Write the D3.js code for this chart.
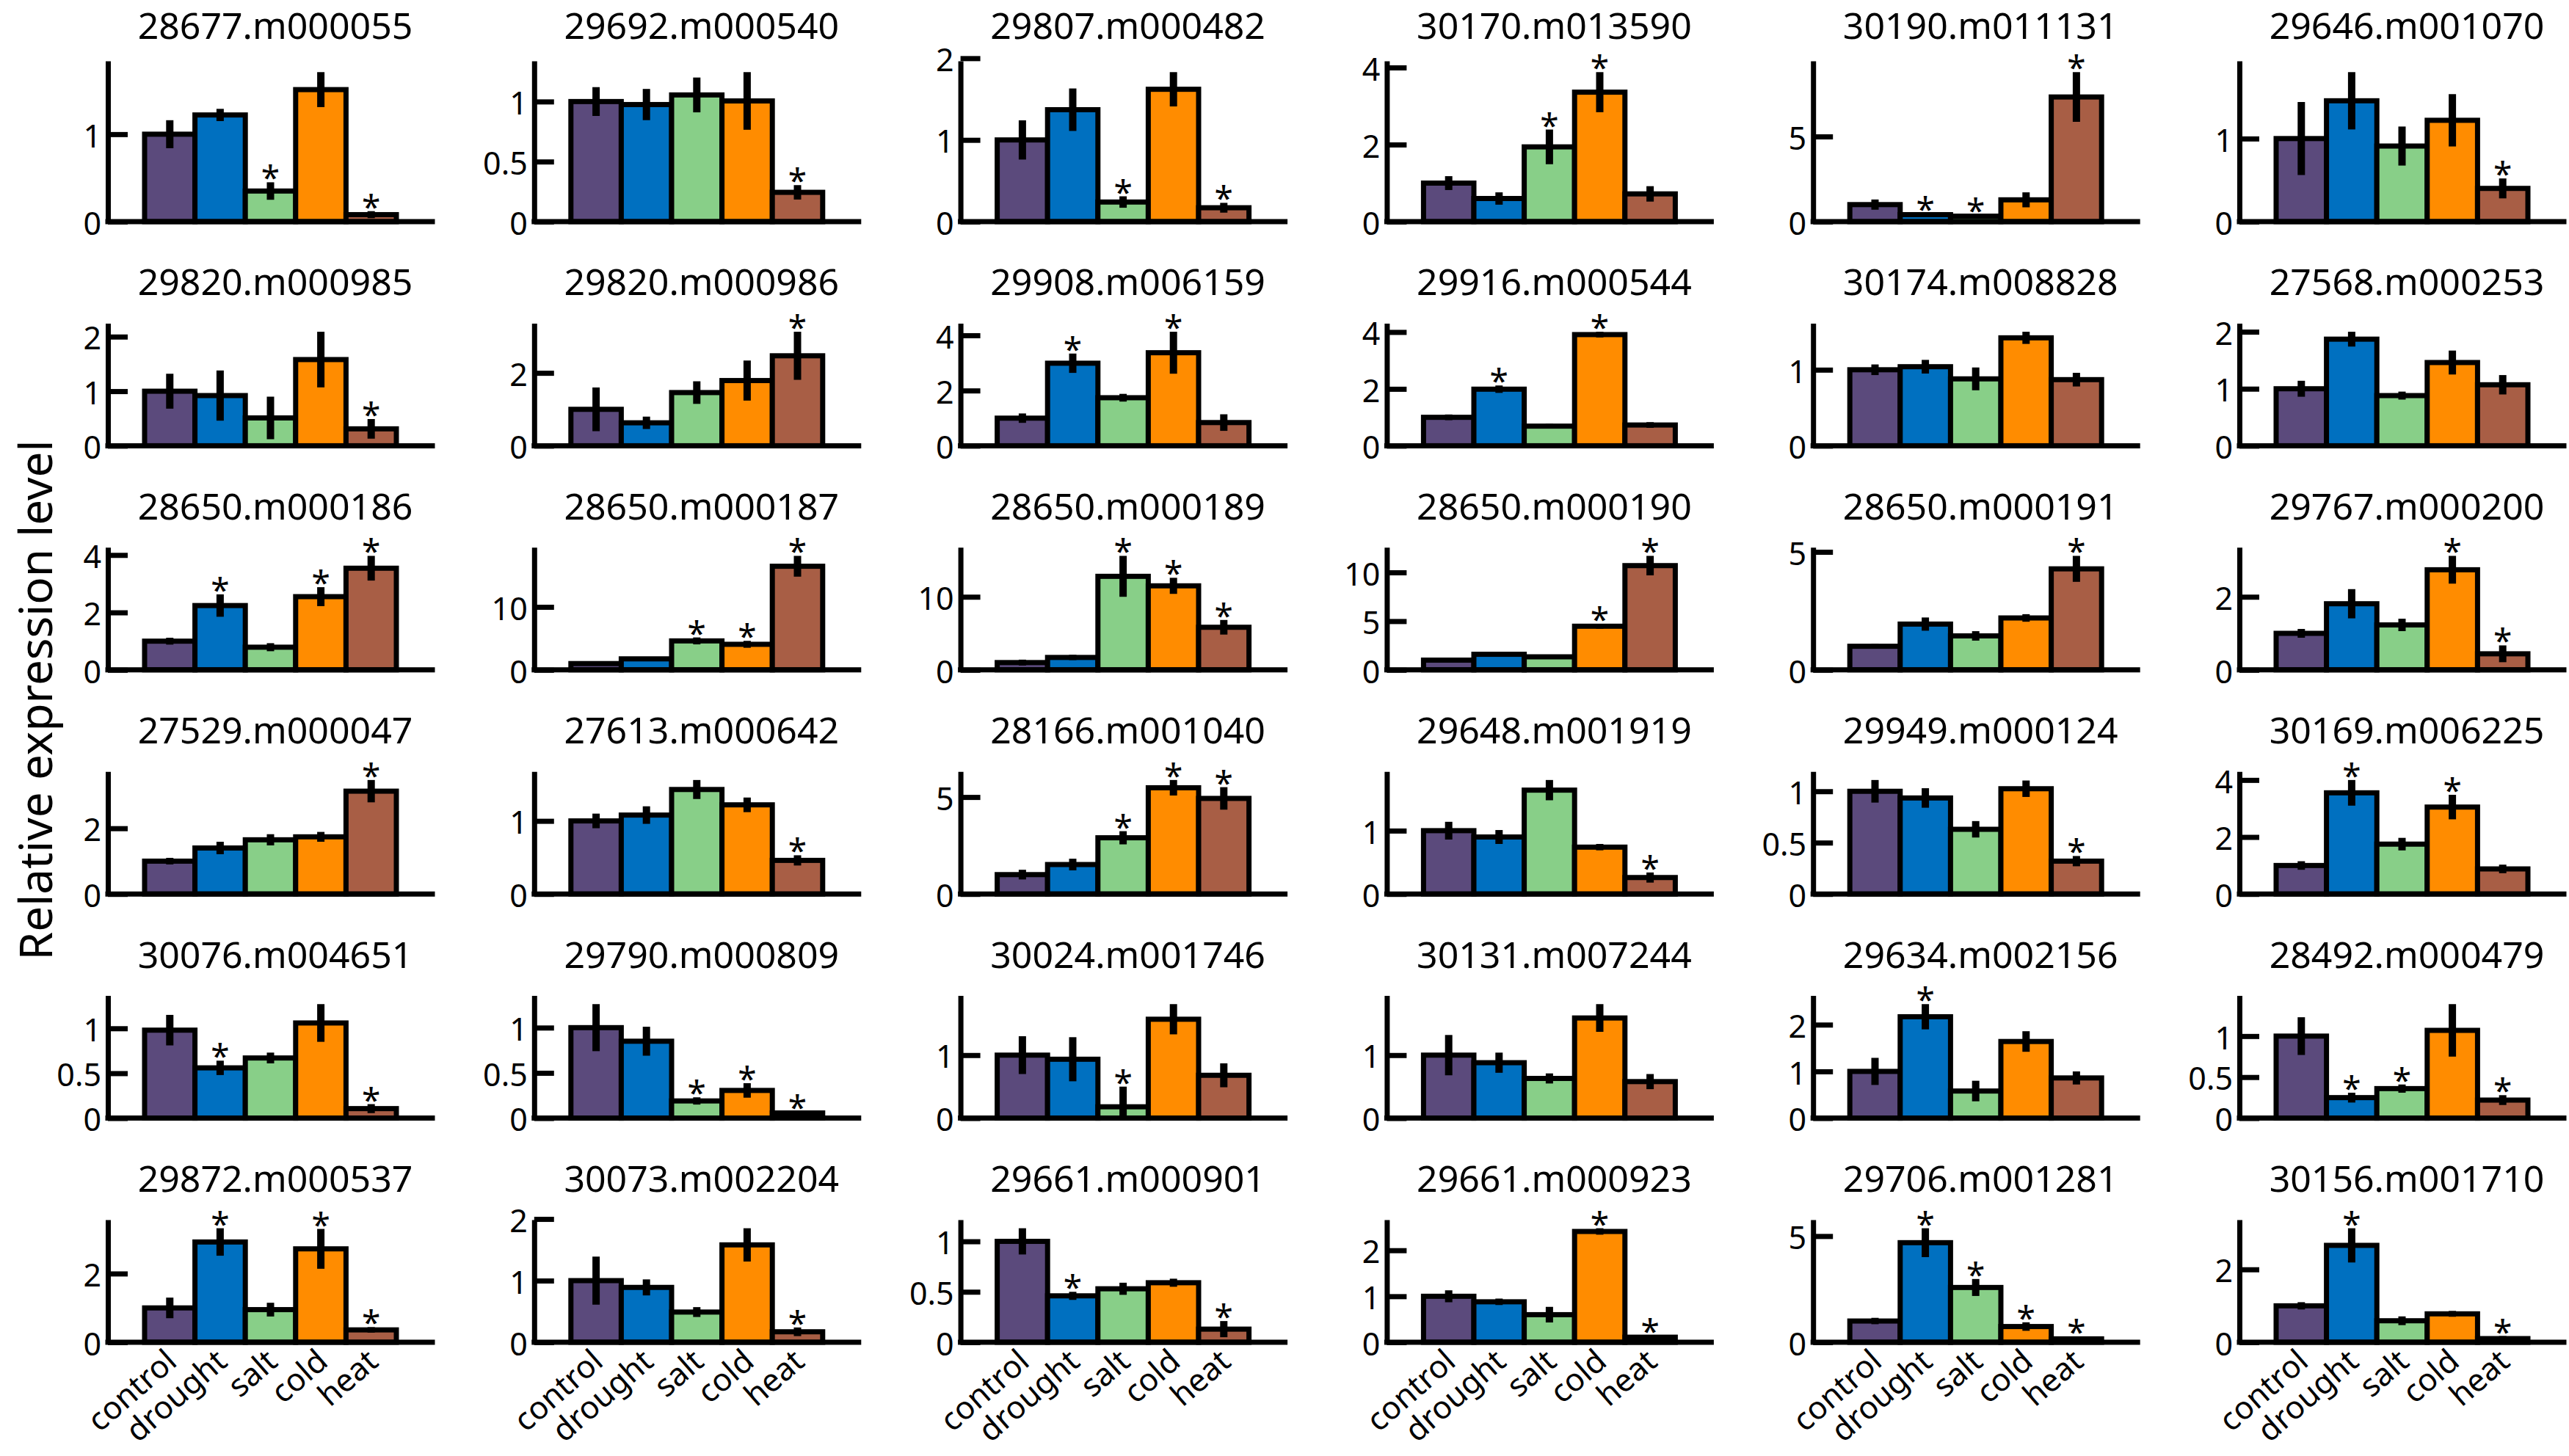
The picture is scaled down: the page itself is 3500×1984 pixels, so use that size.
<!DOCTYPE html>
<html>
<head>
<meta charset="utf-8">
<script src="https://cdn.jsdelivr.net/npm/d3@7"></script>
<style>
  body { margin: 0; background: #fff; }
  svg { display: block; background: #fff; }
</style>
</head>
<body>
<svg width="3500" height="1984"></svg>
<script>
/* global d3 */

// Treatments (x categories) and gene ids, in reading order (6 per row)
const treatments = ['control', 'drought', 'salt', 'cold', 'heat'];

const genes = [
  '28677.m000055', '29692.m000540', '29807.m000482', '30170.m013590', '30190.m011131', '29646.m001070',
  '29820.m000985', '29820.m000986', '29908.m006159', '29916.m000544', '30174.m008828', '27568.m000253',
  '28650.m000186', '28650.m000187', '28650.m000189', '28650.m000190', '28650.m000191', '29767.m000200',
  '27529.m000047', '27613.m000642', '28166.m001040', '29648.m001919', '29949.m000124', '30169.m006225',
  '30076.m004651', '29790.m000809', '30024.m001746', '30131.m007244', '29634.m002156', '28492.m000479',
  '29872.m000537', '30073.m002204', '29661.m000901', '29661.m000923', '29706.m001281', '30156.m001710',
];

// Mean relative expression, one row of 5 per gene
const means = [
  [1.0, 1.22, 0.35, 1.51, 0.08],
  [1.0, 0.975, 1.055, 1.005, 0.244],
  [1.0, 1.37, 0.24, 1.62, 0.17],
  [1.0, 0.6, 1.94, 3.36, 0.72],
  [1.0, 0.41, 0.32, 1.28, 7.32],
  [1.0, 1.455, 0.91, 1.22, 0.4],
  [1.0, 0.92, 0.51, 1.58, 0.31],
  [1.0, 0.63, 1.46, 1.79, 2.47],
  [1.0, 2.99, 1.74, 3.37, 0.84],
  [1.0, 1.99, 0.69, 3.91, 0.73],
  [1.0, 1.04, 0.88, 1.42, 0.87],
  [1.0, 1.87, 0.88, 1.46, 1.07],
  [1.0, 2.24, 0.79, 2.55, 3.54],
  [1.0, 1.75, 4.6, 4.06, 16.45],
  [1.0, 1.7, 12.8, 11.5, 5.83],
  [1.0, 1.6, 1.34, 4.48, 10.7],
  [1.0, 1.94, 1.44, 2.2, 4.28],
  [1.0, 1.81, 1.23, 2.74, 0.44],
  [1.0, 1.4, 1.65, 1.74, 3.13],
  [1.0, 1.08, 1.43, 1.22, 0.46],
  [1.0, 1.52, 2.9, 5.48, 4.93],
  [1.0, 0.9, 1.64, 0.74, 0.26],
  [1.0, 0.935, 0.63, 1.025, 0.32],
  [1.0, 3.55, 1.75, 3.05, 0.88],
  [0.98, 0.56, 0.67, 1.06, 0.106],
  [1.0, 0.85, 0.19, 0.306, 0.057],
  [1.0, 0.935, 0.18, 1.57, 0.68],
  [1.0, 0.88, 0.63, 1.59, 0.58],
  [1.0, 2.17, 0.58, 1.64, 0.86],
  [1.0, 0.25, 0.36, 1.07, 0.22],
  [1.0, 2.92, 0.95, 2.72, 0.36],
  [1.0, 0.89, 0.49, 1.58, 0.17],
  [1.0, 0.46, 0.53, 0.59, 0.13],
  [1.0, 0.88, 0.6, 2.41, 0.11],
  [1.0, 4.69, 2.58, 0.74, 0.16],
  [1.0, 2.66, 0.59, 0.78, 0.1],
];

// Error bar half lengths
const errors = [
  [0.16, 0.07, 0.1, 0.2, 0.04],
  [0.12, 0.13, 0.145, 0.24, 0.06],
  [0.24, 0.26, 0.07, 0.21, 0.06],
  [0.18, 0.16, 0.45, 0.52, 0.2],
  [0.3, 0.08, 0.06, 0.44, 1.46],
  [0.44, 0.345, 0.235, 0.315, 0.12],
  [0.32, 0.46, 0.39, 0.51, 0.18],
  [0.6, 0.17, 0.31, 0.55, 0.66],
  [0.17, 0.35, 0.14, 0.76, 0.3],
  [0.1, 0.13, 0.08, 0.1, 0.1],
  [0.07, 0.09, 0.15, 0.08, 0.09],
  [0.14, 0.13, 0.07, 0.21, 0.17],
  [0.12, 0.39, 0.14, 0.33, 0.43],
  [0.2, 0.3, 0.55, 0.55, 1.65],
  [0.4, 0.36, 2.8, 1.1, 1.0],
  [0.1, 0.15, 0.15, 0.25, 1.0],
  [0.1, 0.28, 0.2, 0.16, 0.55],
  [0.12, 0.4, 0.17, 0.38, 0.23],
  [0.1, 0.19, 0.17, 0.15, 0.34],
  [0.1, 0.12, 0.13, 0.1, 0.07],
  [0.25, 0.3, 0.34, 0.4, 0.58],
  [0.14, 0.11, 0.16, 0.05, 0.08],
  [0.11, 0.095, 0.08, 0.08, 0.05],
  [0.15, 0.45, 0.22, 0.43, 0.15],
  [0.17, 0.08, 0.06, 0.21, 0.05],
  [0.26, 0.16, 0.04, 0.08, 0.015],
  [0.3, 0.35, 0.32, 0.24, 0.19],
  [0.32, 0.16, 0.08, 0.22, 0.12],
  [0.29, 0.27, 0.22, 0.22, 0.14],
  [0.23, 0.06, 0.05, 0.32, 0.06],
  [0.3, 0.4, 0.2, 0.58, 0.08],
  [0.39, 0.13, 0.08, 0.27, 0.07],
  [0.13, 0.04, 0.06, 0.04, 0.08],
  [0.13, 0.07, 0.17, 0.07, 0.04],
  [0.15, 0.68, 0.4, 0.2, 0.1],
  [0.1, 0.47, 0.12, 0.08, 0.07],
];

// Significance marks (1 = asterisk)
const stars = [
  [0, 0, 1, 0, 1], [0, 0, 0, 0, 1], [0, 0, 1, 0, 1], [0, 0, 1, 1, 0], [0, 1, 1, 0, 1], [0, 0, 0, 0, 1],
  [0, 0, 0, 0, 1], [0, 0, 0, 0, 1], [0, 1, 0, 1, 0], [0, 1, 0, 1, 0], [0, 0, 0, 0, 0], [0, 0, 0, 0, 0],
  [0, 1, 0, 1, 1], [0, 0, 1, 1, 1], [0, 0, 1, 1, 1], [0, 0, 0, 1, 1], [0, 0, 0, 0, 1], [0, 0, 0, 1, 1],
  [0, 0, 0, 0, 1], [0, 0, 0, 0, 1], [0, 0, 1, 1, 1], [0, 0, 0, 0, 1], [0, 0, 0, 0, 1], [0, 1, 0, 1, 0],
  [0, 1, 0, 0, 1], [0, 0, 1, 1, 1], [0, 0, 1, 0, 0], [0, 0, 0, 0, 0], [0, 1, 0, 0, 0], [0, 1, 1, 0, 1],
  [0, 1, 0, 1, 1], [0, 0, 0, 0, 1], [0, 1, 0, 0, 1], [0, 0, 0, 1, 1], [0, 1, 1, 1, 1], [0, 1, 0, 0, 1],
];

// Y tick values shown on each panel
const yTicks = [
  [0, 1], [0, 0.5, 1], [0, 1, 2], [0, 2, 4], [0, 5], [0, 1],
  [0, 1, 2], [0, 2], [0, 2, 4], [0, 2, 4], [0, 1], [0, 1, 2],
  [0, 2, 4], [0, 10], [0, 10], [0, 5, 10], [0, 5], [0, 2],
  [0, 2], [0, 1], [0, 5], [0, 1], [0, 0.5, 1], [0, 2, 4],
  [0, 0.5, 1], [0, 0.5, 1], [0, 1], [0, 1], [0, 1, 2], [0, 0.5, 1],
  [0, 2], [0, 1, 2], [0, 0.5, 1], [0, 1, 2], [0, 5], [0, 2],
];

const colors = ['#5b4a7c', '#0070c0', '#88cf88', '#ff8c00', '#a85e45'];
const font = "'Noto Sans', 'Open Sans', sans-serif";

// Layout
const svg = d3.select('svg');
const ncol = 6;
const colX0 = 147;
const colStep = 580.8;
const rowBase0 = 302;
const rowStep = 305.4;
const axisLen = 442;
const lw = 7;

genes.forEach((gene, i) => {
  const r = Math.floor(i / ncol);
  const c = i % ncol;
  const h = r === 0 ? 219 : 167;
  const m = means[i];
  const e = errors[i];

  const g = svg.append('g')
    .attr('transform', `translate(${colX0 + c * colStep}, ${rowBase0 + r * rowStep})`);

  const x = d3.scaleBand().domain(treatments).range([50, 393]).padding(0);
  const top = d3.max(m, (v, j) => v + e[j]);
  const y = d3.scaleLinear().domain([0, top * 1.075]).range([0, -h]);

  const rows = treatments.map((t, j) => ({ t, v: m[j], err: e[j], star: stars[i][j], color: colors[j] }));

  // bars
  g.selectAll('.bar')
    .data(rows)
    .enter()
    .append('rect')
    .attr('class', 'bar')
    .attr('x', (d) => x(d.t))
    .attr('y', (d) => y(d.v))
    .attr('width', x.bandwidth())
    .attr('height', (d) => y(0) - y(d.v))
    .attr('fill', (d) => d.color)
    .attr('stroke', '#000')
    .attr('stroke-width', lw);

  // error bars
  g.selectAll('.err')
    .data(rows)
    .enter()
    .append('line')
    .attr('x1', (d) => x(d.t) + x.bandwidth() / 2)
    .attr('x2', (d) => x(d.t) + x.bandwidth() / 2)
    .attr('y1', (d) => y(Math.max(0, d.v - d.err)))
    .attr('y2', (d) => y(d.v + d.err))
    .attr('stroke', '#000')
    .attr('stroke-width', 10);

  // asterisks
  g.selectAll('.star')
    .data(rows.filter((d) => d.star))
    .enter()
    .append('text')
    .attr('x', (d) => x(d.t) + x.bandwidth() / 2)
    .attr('y', (d) => y(d.v + d.err) + 11)
    .attr('text-anchor', 'middle')
    .attr('font-family', font)
    .attr('font-size', 46)
    .text('*');

  // y axis
  const yAxis = g.append('g')
    .call(d3.axisLeft(y)
      .tickValues(yTicks[i])
      .tickFormat(d3.format('~g'))
      .tickSize(-27)
      .tickSizeOuter(0)
      .tickPadding(9));
  yAxis.attr('font-family', font).attr('font-size', 43);
  yAxis.selectAll('path, line').attr('stroke', '#000').attr('stroke-width', lw);
  yAxis.selectAll('text').attr('fill', '#000').attr('dy', '0.4em');

  // x axis line
  g.append('line')
    .attr('x1', 0)
    .attr('x2', axisLen)
    .attr('y1', 0)
    .attr('y2', 0)
    .attr('stroke', '#000')
    .attr('stroke-width', lw)
    .attr('stroke-linecap', 'square');

  // title
  g.append('text')
    .attr('x', 228)
    .attr('y', r === 0 ? -h - 30 : -h - 38)
    .attr('text-anchor', 'middle')
    .attr('font-family', font)
    .attr('font-size', 50)
    .text(gene);

  // category labels on the bottom row only
  if (r === 5) {
    const xAxis = g.append('g').call(d3.axisBottom(x).tickSize(0));
    xAxis.select('.domain').remove();
    xAxis.attr('font-family', font).attr('font-size', 43);
    xAxis.selectAll('text')
      .attr('fill', '#000')
      .attr('text-anchor', 'end')
      .attr('x', 12)
      .attr('y', 30)
      .attr('dy', 0)
      .attr('transform', 'rotate(-41, 12, 30)');
  }
});

// Shared y label
svg.append('text')
  .attr('transform', 'translate(71, 954) rotate(-90)')
  .attr('text-anchor', 'middle')
  .attr('font-family', font)
  .attr('font-size', 62)
  .text('Relative expression level');
</script>
</body>
</html>
